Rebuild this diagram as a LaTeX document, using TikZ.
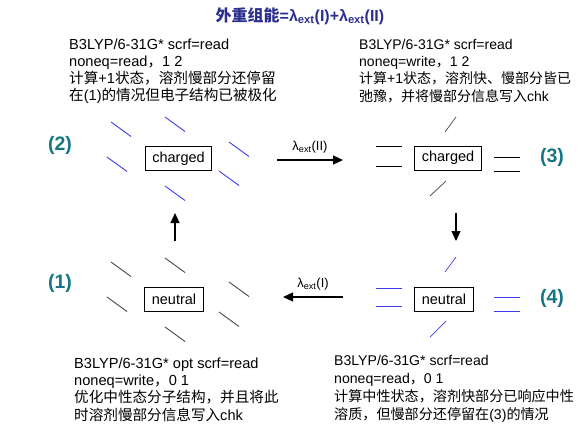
\documentclass[tikz,border=0pt]{standalone}
\usepackage{fontspec}
\setmainfont{Liberation Sans}
\newfontfamily\cjk{Noto Sans CJK SC}
\usetikzlibrary{arrows.meta}

\definecolor{titleblue}{RGB}{43,47,143}
\definecolor{stateteal}{RGB}{20,118,132}
\definecolor{solvblue}{RGB}{60,60,235}
\definecolor{solvgray}{RGB}{70,70,70}

\newcommand{\zh}[1]{{\cjk #1}}
\newcommand{\lamext}[1]{λ\textsubscript{ext}(#1)}

\begin{document}
\begin{tikzpicture}[x=1pt,y=-1pt,
  statebox/.style={draw,line width=0.9pt,inner xsep=7pt,inner ysep=0pt,minimum height=24pt,font=\fontsize{14.5}{17}\selectfont},
  info/.style={anchor=north west,align=left,inner sep=0pt},
  tag/.style={text=stateteal,font=\fontsize{19.5}{21}\selectfont\bfseries},
  flow/.style={-{Triangle[length=10pt,width=9pt]},line width=1.2pt},
  solv/.style={solvblue,line width=0.9pt},
  solvk/.style={solvgray,line width=0.9pt}]
\useasboundingbox (0,0) rectangle (587,437);

% title
\node[text=titleblue,font=\fontsize{16}{18}\selectfont\bfseries] (title) at (300,16)
  {\zh{外重组能}=\lamext{I}+\lamext{II}};

% states
\node[statebox] (chargedL) at (178.5,158.5) {charged};
\node[statebox] (chargedR) at (448,158) {charged};
\node[statebox] (neutralL) at (174,299.5) {neutral};
\node[statebox] (neutralR) at (444,299.5) {neutral};

\node[tag] (tag2) at (60,145) {(2)};
\node[tag] (tag3) at (552,157) {(3)};
\node[tag] (tag1) at (60,283) {(1)};
\node[tag] (tag4) at (552,298) {(4)};

% solvent around the states
\foreach \a/\b in {111/122,165/117,229/142,107/157,219/171,165/186}
  \draw[solv] (\a,\b) -- ++(20,14.5);
\foreach \a/\b in {111/262,165/258,229/282,107/297,219/312,165/327}
  \draw[solvk] (\a,\b) -- ++(20,14.5);

\foreach \a/\b in {376/146,376/166,494/157,494/171}
  \draw[line width=0.9pt] (\a,\b) -- ++(26,0);
\draw[solvk,line width=0.7pt] (445,132) -- (456,117);
\draw[solvk,line width=0.7pt] (430,196) -- (446,181);

\foreach \a/\b in {376/288,376/306,494/297,494/311}
  \draw[solv] (\a,\b) -- ++(26,0);
\draw[solv,line width=0.7pt] (445,272) -- (456,257);
\draw[solv,line width=0.7pt] (430,337) -- (446,321);

% steps
\coordinate (upS) at (175,241);
\coordinate (upE) at (175,213);
\coordinate (dnS) at (456,213);
\coordinate (dnE) at (456,241);
\coordinate (rS) at (277,160);
\coordinate (rE) at (343,160);
\coordinate (lS) at (343,297);
\coordinate (lE) at (283,297);

\draw[flow] (upS) -- (upE);
\draw[flow] (dnS) -- (dnE);
\draw[flow] (rS) -- node[above=3pt,font=\fontsize{13}{15}\selectfont] (lam2) {\lamext{II}} (rE);
\draw[flow] (lS) -- node[above=3pt,font=\fontsize{13}{15}\selectfont] (lam1) {\lamext{I}} (lE);

% route files
\node[info,font=\fontsize{14.6}{17}\selectfont] (infoTL) at (69,38.5) {%
  B3LYP/6-31G* scrf=read\\
  noneq=read\zh{，}1 2\\
  \zh{计算}+1\zh{状态，溶剂慢部分还停留}\\
  \zh{在}(1)\zh{的情况但电子结构已被极化}};
\node[info,font=\fontsize{14}{17.3}\selectfont] (infoTR) at (359,39) {%
  B3LYP/6-31G* scrf=read\\
  noneq=write\zh{，}1 2\\
  \zh{计算}+1\zh{状态，溶剂快、慢部分皆已}\\
  \zh{弛豫，并将慢部分信息写入}chk};
\node[info,font=\fontsize{14.6}{17.3}\selectfont] (infoBL) at (74,357.5) {%
  B3LYP/6-31G* opt scrf=read\\
  noneq=write\zh{，}0 1\\
  \zh{优化中性态分子结构，并且将此}\\
  \zh{时溶剂慢部分信息写入}chk};
\node[info,font=\fontsize{14.1}{18}\selectfont] (infoBR) at (334,355) {%
  B3LYP/6-31G* scrf=read\\
  noneq=read\zh{，}0 1\\
  \zh{计算中性状态，溶剂快部分已响应中性}\\
  \zh{溶质，但慢部分还停留在}(3)\zh{的情况}};

\end{tikzpicture}
\end{document}
